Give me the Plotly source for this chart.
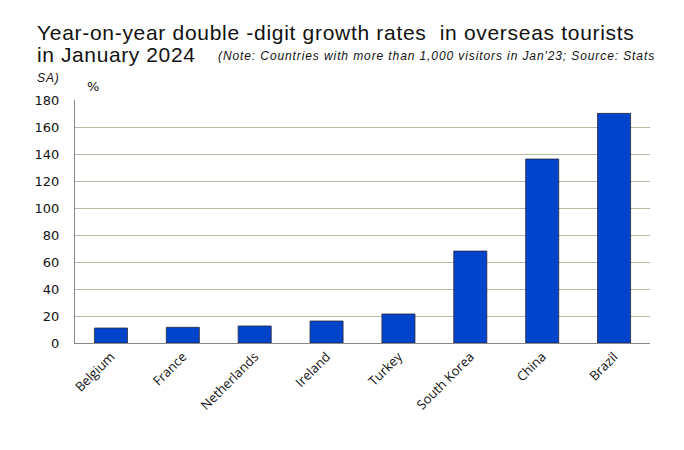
import plotly.graph_objects as go

countries = ["Belgium", "France", "Netherlands", "Ireland", "Turkey", "South Korea", "China", "Brazil"]
growth = [11.1, 11.6, 12.6, 16.3, 21.5, 68.1, 136.3, 170.1]
yticks = [0, 20, 40, 60, 80, 100, 120, 140, 160, 180]

W, H = 684, 450
OFF = 8  # page body margin
# target plot area on screen
SX0, SX1, SY0, SY1 = 75, 650, 100, 343
L = SX0 - OFF
T = SY0 - OFF
pw, ph = SX1 - SX0, SY1 - SY0
R = W - L - pw
B = H - T - ph

def px(sx):
    return (sx - SX0) / pw

def py(sy):
    return (SY1 - sy) / ph

fig = go.Figure()
fig.add_trace(go.Bar(
    x=countries, y=growth,
    marker=dict(color="#0044CC", line=dict(color="#2a2a3a", width=0.8)),
    width=0.46,
))

TF = "Liberation Sans, Arial"
anns = [
    dict(text='<span style="letter-spacing:0.7px">Year-on-year double -digit growth rates  in overseas tourists</span>',
         x=px(36), y=py(45), font=dict(size=21, family=TF, color="#111")),
    dict(text='<span style="letter-spacing:0.6px">in January 2024</span>',
         x=px(36), y=py(67), font=dict(size=21, family=TF, color="#111")),
    dict(text='<span style="letter-spacing:0.9px"><i>(Note: Countries with more than 1,000 visitors in Jan\'23; Source: Stats</i></span>',
         x=px(217), y=py(64), font=dict(size=12, family=TF, color="#111")),
    dict(text='<span style="letter-spacing:0.9px"><i>SA)</i></span>',
         x=px(36), y=py(85.5), font=dict(size=12, family=TF, color="#111")),
    dict(text="%", x=px(86), y=py(95),
         font=dict(size=13, family="DejaVu Sans, Verdana", color="#111")),
]
for a in anns:
    a.update(xref="paper", yref="paper", xanchor="left", yanchor="bottom", showarrow=False, borderpad=0)
    fig.add_annotation(**a)

fig.update_layout(
    width=W, height=H,
    margin=dict(l=L, r=R, t=T, b=B),
    paper_bgcolor="white", plot_bgcolor="white",
    showlegend=False,
)
fig.update_xaxes(
    tickangle=-45, tickfont=dict(size=13, family="Open Sans, Noto Sans", color="#111"),
    showline=True, linecolor="#888", linewidth=1, showgrid=False,
)
fig.update_yaxes(
    range=[0, 180], tickvals=yticks, ticktext=[str(v) for v in yticks],
    tickfont=dict(size=13, family="DejaVu Sans, Verdana", color="#111"),
    showgrid=True, gridcolor="#B8B8A6", gridwidth=1,
    showline=True, linecolor="#888", linewidth=1,
    ticklabelstandoff=12, zeroline=False,
)

fig.write_html("out.html")
